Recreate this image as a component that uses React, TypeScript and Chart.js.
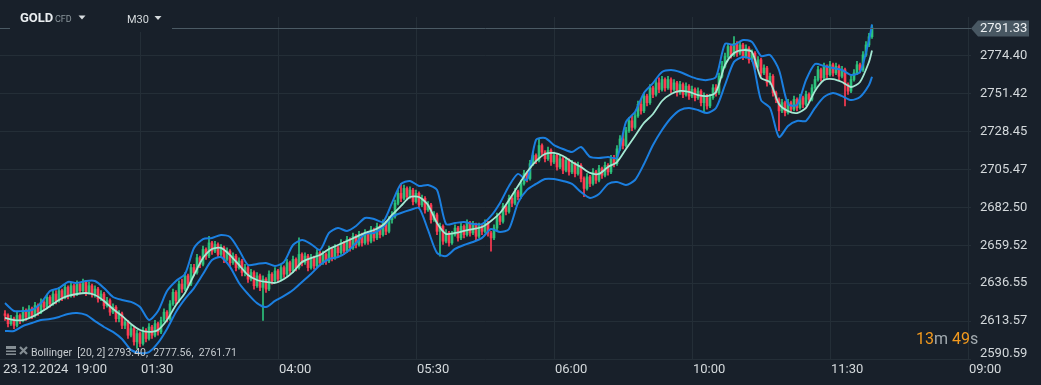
import React, { useEffect, useRef } from 'react';
import { Chart, registerables } from 'chart.js';

Chart.register(...registerables);

// ---------- data ----------
const firstOpen = 2618;

const closes = [
  2617, 2612, 2615, 2611, 2617, 2614, 2620, 2616, 2621, 2617,
  2623, 2619, 2625, 2622, 2628, 2624, 2630, 2626, 2632, 2628,
  2634, 2629, 2635, 2630, 2636, 2632, 2637, 2631, 2635, 2630,
  2633, 2627, 2630, 2623, 2626, 2619, 2622, 2615, 2618, 2611,
  2613, 2605, 2609, 2601, 2606, 2600, 2608, 2603, 2610, 2605,
  2612, 2607, 2614, 2619, 2615, 2624, 2631, 2626, 2636, 2633,
  2641, 2636, 2646, 2643, 2652, 2648, 2657, 2653, 2661, 2656,
  2660, 2654, 2658, 2651, 2656, 2649, 2653, 2646, 2650, 2643,
  2646, 2639, 2643, 2635, 2641, 2634, 2639, 2633, 2642, 2638,
  2644, 2639, 2646, 2642, 2649, 2644, 2651, 2646, 2654, 2649,
  2653, 2646, 2652, 2647, 2655, 2649, 2654, 2650, 2657, 2652,
  2658, 2655, 2661, 2656, 2663, 2658, 2665, 2660, 2666, 2661,
  2667, 2662, 2669, 2664, 2671, 2666, 2673, 2668, 2675, 2677,
  2685, 2691, 2688, 2694, 2689, 2693, 2686, 2691, 2684, 2688,
  2681, 2684, 2675, 2678, 2668, 2671, 2662, 2667, 2661, 2666,
  2670, 2664, 2671, 2666, 2673, 2667, 2672, 2665, 2671, 2668,
  2673, 2667, 2664, 2670, 2677, 2674, 2683, 2680, 2688, 2685,
  2692, 2689, 2697, 2703, 2700, 2709, 2714, 2711, 2720, 2716,
  2712, 2717, 2710, 2714, 2707, 2712, 2705, 2711, 2704, 2709,
  2703, 2708, 2700, 2694, 2701, 2697, 2704, 2699, 2706, 2702,
  2708, 2704, 2712, 2709, 2718, 2724, 2720, 2729, 2735, 2731,
  2738, 2745, 2741, 2750, 2746, 2755, 2751, 2758, 2754, 2760,
  2755, 2760, 2754, 2758, 2752, 2757, 2751, 2756, 2750, 2754,
  2749, 2753, 2746, 2750, 2744, 2749, 2755, 2752, 2762, 2768,
  2774, 2780, 2775, 2782, 2776, 2781, 2774, 2779, 2772, 2776,
  2768, 2772, 2764, 2767, 2758, 2762, 2752, 2748, 2741, 2746,
  2740, 2746, 2742, 2748, 2743, 2749, 2745, 2751, 2748, 2755,
  2760, 2766, 2761, 2768, 2763, 2769, 2764, 2768, 2762, 2766,
  2757, 2753, 2760, 2764, 2769, 2766, 2775, 2781, 2786, 2791.33,
];

const highs = [
  2620, 2618, 2617, 2616, 2619, 2618, 2622, 2621, 2623, 2622,
  2625, 2624, 2627, 2626, 2630, 2629, 2632, 2632, 2634, 2633,
  2636, 2635, 2637, 2636, 2638, 2637, 2639, 2638, 2637, 2636,
  2635, 2634, 2632, 2631, 2628, 2627, 2624, 2623, 2620, 2619,
  2615, 2614, 2611, 2610, 2608, 2607, 2610, 2609, 2612, 2611,
  2614, 2613, 2616, 2621, 2620, 2626, 2633, 2632, 2638, 2639,
  2643, 2642, 2648, 2648, 2654, 2653, 2659, 2658, 2665, 2662,
  2662, 2661, 2660, 2659, 2658, 2657, 2655, 2654, 2652, 2651,
  2648, 2647, 2645, 2644, 2643, 2642, 2641, 2640, 2644, 2643,
  2646, 2645, 2648, 2647, 2651, 2650, 2653, 2652, 2664, 2655,
  2655, 2654, 2654, 2653, 2657, 2656, 2656, 2655, 2659, 2658,
  2660, 2659, 2663, 2662, 2665, 2664, 2667, 2666, 2668, 2667,
  2669, 2668, 2671, 2670, 2673, 2672, 2675, 2674, 2677, 2680,
  2687, 2693, 2697, 2696, 2695, 2695, 2694, 2693, 2692, 2690,
  2689, 2686, 2685, 2680, 2679, 2673, 2672, 2669, 2668, 2668,
  2672, 2671, 2673, 2672, 2675, 2674, 2674, 2673, 2673, 2672,
  2675, 2674, 2668, 2672, 2679, 2678, 2685, 2684, 2690, 2689,
  2694, 2693, 2699, 2705, 2704, 2711, 2716, 2715, 2724, 2721,
  2717, 2719, 2718, 2716, 2715, 2714, 2713, 2713, 2712, 2711,
  2710, 2710, 2709, 2701, 2703, 2702, 2706, 2705, 2708, 2707,
  2710, 2709, 2714, 2714, 2720, 2726, 2727, 2731, 2737, 2738,
  2740, 2747, 2748, 2752, 2751, 2757, 2756, 2760, 2761, 2762,
  2761, 2762, 2761, 2760, 2759, 2759, 2758, 2758, 2757, 2756,
  2755, 2755, 2754, 2752, 2751, 2751, 2757, 2757, 2764, 2771,
  2776, 2782, 2781, 2786, 2783, 2783, 2782, 2781, 2780, 2778,
  2777, 2774, 2773, 2769, 2768, 2764, 2763, 2753, 2749, 2748,
  2747, 2748, 2747, 2750, 2749, 2751, 2750, 2753, 2752, 2757,
  2762, 2768, 2767, 2770, 2769, 2771, 2770, 2770, 2769, 2768,
  2767, 2758, 2762, 2766, 2771, 2770, 2777, 2783, 2788, 2793,
];

const lows = [
  2614, 2610, 2611, 2609, 2610, 2612, 2613, 2614, 2615, 2615,
  2616, 2617, 2618, 2620, 2621, 2622, 2623, 2624, 2625, 2626,
  2627, 2627, 2628, 2628, 2629, 2630, 2631, 2629, 2630, 2628,
  2628, 2625, 2626, 2621, 2622, 2617, 2618, 2613, 2613, 2609,
  2609, 2603, 2604, 2599, 2597, 2598, 2599, 2601, 2602, 2603,
  2604, 2605, 2606, 2613, 2613, 2614, 2623, 2624, 2625, 2631,
  2632, 2634, 2635, 2641, 2642, 2646, 2647, 2651, 2652, 2654,
  2655, 2652, 2653, 2649, 2650, 2647, 2648, 2644, 2645, 2641,
  2641, 2637, 2638, 2633, 2634, 2632, 2614, 2631, 2632, 2636,
  2637, 2637, 2638, 2640, 2641, 2642, 2643, 2644, 2645, 2647,
  2648, 2644, 2645, 2645, 2646, 2647, 2648, 2648, 2649, 2650,
  2651, 2653, 2654, 2654, 2655, 2656, 2657, 2658, 2659, 2659,
  2660, 2660, 2661, 2662, 2663, 2664, 2665, 2666, 2667, 2673,
  2676, 2684, 2686, 2687, 2687, 2688, 2684, 2685, 2682, 2683,
  2679, 2680, 2673, 2674, 2666, 2653, 2660, 2661, 2659, 2660,
  2665, 2662, 2663, 2664, 2665, 2665, 2666, 2663, 2664, 2666,
  2667, 2665, 2656, 2663, 2669, 2672, 2673, 2678, 2679, 2683,
  2684, 2687, 2688, 2696, 2698, 2699, 2708, 2709, 2710, 2714,
  2710, 2711, 2708, 2709, 2705, 2706, 2703, 2704, 2702, 2703,
  2701, 2702, 2698, 2689, 2693, 2695, 2696, 2697, 2698, 2700,
  2701, 2702, 2703, 2707, 2708, 2717, 2718, 2719, 2728, 2729,
  2730, 2737, 2739, 2740, 2744, 2745, 2749, 2750, 2752, 2753,
  2753, 2754, 2752, 2753, 2750, 2751, 2749, 2750, 2748, 2749,
  2747, 2748, 2744, 2740, 2742, 2743, 2748, 2750, 2751, 2761,
  2767, 2773, 2773, 2774, 2774, 2775, 2772, 2773, 2770, 2771,
  2766, 2767, 2762, 2763, 2756, 2757, 2750, 2746, 2729, 2740,
  2738, 2739, 2740, 2741, 2741, 2742, 2743, 2744, 2746, 2747,
  2754, 2759, 2759, 2760, 2761, 2762, 2762, 2763, 2760, 2761,
  2744, 2751, 2752, 2759, 2763, 2764, 2765, 2774, 2780, 2785,
];

// Bollinger (20, 2) read every 3rd candle, last value = last candle
const bandStep = 3;
const upperBand = [
  2624.5, 2619.7, 2619.7, 2620.3, 2624.5, 2631.8, 2633.6, 2637.3, 2636.7, 2637.9,
  2637.9, 2633.6, 2628.2, 2626.4, 2625.2, 2622.1, 2614.2, 2619.7, 2631.8, 2637.9,
  2642.1, 2657.9, 2663.3, 2664.0, 2665.8, 2664.6, 2656.7, 2647.6, 2648.2, 2648.8,
  2647.0, 2649.4, 2659.7, 2662.7, 2660.3, 2656.7, 2667.0, 2670.0, 2668.2, 2671.2,
  2676.1, 2675.5, 2673.7, 2685.2, 2696.7, 2698.5, 2695.5, 2696.1, 2693.1, 2672.4,
  2673.0, 2673.7, 2672.4, 2672.4, 2677.3, 2685.2, 2695.5, 2702.8, 2699.1, 2723.4,
  2724.6, 2720.3, 2717.9, 2716.1, 2719.1, 2713.1, 2712.5, 2713.1, 2712.5, 2734.3,
  2740.3, 2751.9, 2757.9, 2764.6, 2765.8, 2764.6, 2762.2, 2760.3, 2759.7, 2761.6,
  2781.6, 2781.0, 2784.0, 2782.8, 2774.3, 2774.9, 2765.8, 2745.2, 2744.6, 2759.7,
  2769.4, 2768.2, 2767.0, 2765.8, 2762.8, 2764.6, 2784.0, 2793.40,
];
const middleBand = [
  2615.5, 2614.2, 2614.2, 2616.1, 2619.1, 2622.7, 2626.4, 2628.8, 2630.0, 2630.6,
  2629.4, 2625.8, 2620.9, 2616.7, 2611.8, 2608.2, 2607.0, 2608.2, 2614.2, 2623.3,
  2630.6, 2641.5, 2651.8, 2657.3, 2657.9, 2653.6, 2647.6, 2641.5, 2638.5, 2637.3,
  2636.7, 2639.1, 2643.3, 2649.4, 2651.8, 2653.6, 2657.3, 2659.7, 2662.1, 2664.6,
  2667.0, 2668.8, 2671.8, 2677.9, 2683.4, 2688.8, 2688.8, 2684.0, 2673.0, 2666.4,
  2667.0, 2668.2, 2669.4, 2670.6, 2674.3, 2679.1, 2687.0, 2695.5, 2704.0, 2710.6,
  2714.9, 2715.5, 2713.7, 2710.0, 2707.0, 2703.4, 2702.8, 2707.0, 2710.0, 2717.9,
  2725.8, 2733.7, 2739.1, 2747.0, 2751.2, 2753.1, 2752.5, 2750.6, 2750.0, 2752.5,
  2768.8, 2776.1, 2777.9, 2776.7, 2761.0, 2758.5, 2745.2, 2740.9, 2739.7, 2742.8,
  2753.1, 2759.7, 2760.3, 2758.5, 2755.5, 2758.5, 2770.7, 2777.56,
];
const lowerBand = [
  2607.6, 2607.6, 2610.6, 2612.4, 2614.2, 2614.8, 2616.1, 2617.9, 2618.5, 2617.3,
  2613.6, 2610.0, 2607.0, 2602.7, 2596.1, 2594.2, 2594.8, 2600.3, 2608.8, 2619.1,
  2627.0, 2633.6, 2642.1, 2650.6, 2652.4, 2646.4, 2636.7, 2630.0, 2624.5, 2622.1,
  2625.8, 2628.8, 2632.4, 2637.3, 2642.1, 2647.6, 2651.2, 2652.4, 2655.5, 2660.9,
  2666.4, 2667.0, 2670.6, 2676.7, 2679.1, 2680.9, 2682.1, 2668.8, 2654.9, 2653.0,
  2657.3, 2659.7, 2661.5, 2664.0, 2669.4, 2667.6, 2669.4, 2685.2, 2693.1, 2696.7,
  2699.7, 2699.7, 2698.5, 2696.7, 2691.8, 2688.2, 2690.6, 2696.7, 2697.9, 2696.1,
  2699.1, 2708.8, 2720.3, 2729.4, 2736.7, 2741.5, 2742.8, 2741.5, 2739.7, 2742.8,
  2756.7, 2770.7, 2773.7, 2771.9, 2747.6, 2742.8, 2725.2, 2731.9, 2734.9, 2734.9,
  2742.8, 2749.4, 2751.9, 2750.0, 2747.6, 2749.4, 2756.7, 2761.71,
];

const yTickValues = [2590.59, 2613.57, 2636.55, 2659.52, 2682.50, 2705.47, 2728.45, 2751.42, 2774.40];
const xTickPositions = [-0.667, 45.333, 91.333, 137.333, 183.333, 229.333, 275.333, 321.333];
const xTickLabels = ['23.12.2024  19:00', '01:30', '04:00', '05:30', '06:00', '10:00', '11:30', '09:00'];
const lastPrice = 2791.33;
const bollingerValues = [2793.40, 2777.56, 2761.71];
const symbol = 'GOLD';
const symbolType = 'CFD';
const timeframe = 'M30';
const timerParts = [['13', true], ['m ', false], ['49', true], ['s', false]] as [string, boolean][];

// ---------- styles ----------
const BG = '#18202a';
const GRID = '#242e37';
const UP = '#2cc27b';
const DOWN = '#ff3b52';
const BAND = '#1b7fe0';
const MID = '#a4e8d3';
const TEXT = '#d4d9dc';
const FONT = 'Roboto, "Noto Sans", sans-serif';

export default function App() {
  const ref = useRef<HTMLCanvasElement | null>(null);

  useEffect(() => {
    document.body.style.margin = '0';
    document.body.style.background = BG;
    const canvas = ref.current;
    if (!canvas) return;

    const opens = closes.map((_, i) => (i === 0 ? firstOpen : closes[i - 1]));
    const colors = closes.map((c, i) => (c >= opens[i] ? UP : DOWN));
    const bodies = closes.map((c, i) => ({ x: i, y: [opens[i], c] }));
    const wicks = closes.map((_, i) => ({ x: i, y: [lows[i], highs[i]] }));
    const bandX = (k: number, n: number) => (k === n - 1 ? closes.length - 1 : k * bandStep);
    const toPts = (arr: number[]) => arr.map((v, k) => ({ x: bandX(k, arr.length), y: v }));

    const overlay = {
      id: 'overlay',
      beforeDraw(chart: any) {
        const { ctx, width, height } = chart;
        ctx.save();
        ctx.fillStyle = BG;
        ctx.fillRect(0, 0, width, height);
        ctx.restore();
      },
      afterDraw(chart: any) {
        const { ctx, chartArea } = chart;
        const ys = chart.scales.y;
        ctx.save();
        const py = Math.round(ys.getPixelForValue(lastPrice)) + 0.5;
        ctx.strokeStyle = '#4b5a64';
        ctx.lineWidth = 1;
        ctx.beginPath();
        ctx.moveTo(chartArea.left, py);
        ctx.lineTo(chartArea.right, py);
        ctx.stroke();

        // header box
        ctx.fillStyle = BG;
        ctx.fillRect(10, chartArea.top, 162, 15);
        ctx.textBaseline = 'middle';
        ctx.textAlign = 'left';
        ctx.fillStyle = '#e9edf0';
        ctx.font = `bold 13px ${FONT}`;
        ctx.fillText(symbol, 20, 18.5);
        ctx.fillStyle = '#8b969c';
        ctx.font = `9px ${FONT}`;
        ctx.fillText(symbolType, 55, 19.5);
        ctx.fillStyle = '#d8dde0';
        ctx.beginPath();
        ctx.moveTo(78.5, 15.5); ctx.lineTo(85.5, 15.5); ctx.lineTo(82, 19.5); ctx.closePath(); ctx.fill();
        ctx.font = `11px ${FONT}`;
        ctx.fillStyle = '#d5dadd';
        ctx.fillText(timeframe, 127, 20.5);
        ctx.beginPath();
        ctx.moveTo(154.5, 16); ctx.lineTo(161.5, 16); ctx.lineTo(158, 20); ctx.closePath(); ctx.fill();

        // price tag
        const tagL = chartArea.right;
        ctx.fillStyle = '#485762';
        ctx.beginPath();
        ctx.moveTo(tagL, py);
        ctx.lineTo(tagL + 7, py - 8);
        ctx.lineTo(tagL + 58, py - 8);
        ctx.lineTo(tagL + 58, py + 8);
        ctx.lineTo(tagL + 7, py + 8);
        ctx.closePath();
        ctx.fill();
        ctx.fillStyle = '#eef1f3';
        ctx.font = `13px ${FONT}`;
        ctx.fillText(lastPrice.toFixed(2), tagL + 9, py + 0.5);

        // bottom y label (shifted up)
        ctx.fillStyle = TEXT;
        ctx.fillText(yTickValues[0].toFixed(2), chartArea.right + 9, ys.getPixelForValue(yTickValues[0]) - 5);

        // timer
        ctx.font = `16px ${FONT}`;
        let tx = 916;
        timerParts.forEach(([t, hi]) => {
          ctx.fillStyle = hi ? '#f39a1e' : '#a3abb0';
          ctx.fillText(t, tx, 339.5);
          tx += ctx.measureText(t).width;
        });

        // Bollinger legend
        ctx.fillStyle = '#858e94';
        ctx.fillRect(6, 346, 10, 3);
        ctx.fillRect(6, 350.5, 10, 1.5);
        ctx.fillRect(6, 353.5, 10, 1.5);
        ctx.strokeStyle = '#858e94';
        ctx.lineWidth = 2.2;
        ctx.beginPath();
        ctx.moveTo(20, 347); ctx.lineTo(27, 354);
        ctx.moveTo(27, 347); ctx.lineTo(20, 354);
        ctx.stroke();
        ctx.fillStyle = '#c7ccd0';
        ctx.font = `10.5px ${FONT}`;
        const legend = `Bollinger  [20, 2] ${bollingerValues.map((v) => v.toFixed(2)).join(',  ')}`;
        ctx.fillText(legend, 31, 353.5);
        ctx.restore();
      },
    };

    const chart = new Chart(canvas, {
      type: 'bar',
      data: {
        datasets: [
          {
            type: 'line', label: 'Middle', data: toPts(middleBand) as any,
            borderColor: MID, borderWidth: 1.8, pointRadius: 0, tension: 0.25, order: 0,
          },
          {
            type: 'line', label: 'Upper', data: toPts(upperBand) as any,
            borderColor: BAND, borderWidth: 2, pointRadius: 0, tension: 0.25, order: 1,
          },
          {
            type: 'line', label: 'Lower', data: toPts(lowerBand) as any,
            borderColor: BAND, borderWidth: 2, pointRadius: 0, tension: 0.25, order: 1,
          },
          {
            type: 'bar', label: 'Body', data: bodies as any, backgroundColor: colors,
            barThickness: 2, grouped: false, order: 2,
          } as any,
          {
            type: 'bar', label: 'Wick', data: wicks as any, backgroundColor: colors,
            barThickness: 1, grouped: false, order: 3,
          } as any,
        ],
      },
      options: {
        animation: false,
        responsive: false,
        maintainAspectRatio: false,
        layout: { padding: { top: 17, left: 0, right: 0, bottom: 0 } },
        plugins: { legend: { display: false }, tooltip: { enabled: false } },
        scales: {
          x: {
            type: 'linear',
            min: -1.6667,
            max: 322,
            offset: false,
            border: { display: false },
            grid: {
              offset: false,
              drawTicks: false,
              color: (c: any) => (c.index === 0 ? 'rgba(0,0,0,0)' : GRID),
            },
            afterBuildTicks: (s: any) => { s.ticks = xTickPositions.map((v) => ({ value: v })); },
            afterFit: (s: any) => { s.height = 26; },
            ticks: {
              autoSkip: false, maxRotation: 0, minRotation: 0, align: 'start', padding: 3,
              color: TEXT, font: { family: FONT, size: 13 },
              callback: (_v: any, i: number) => xTickLabels[i],
            },
          },
          y: {
            type: 'linear',
            position: 'right',
            min: 2590.59,
            max: 2797.93,
            border: { display: false },
            grid: { color: GRID, drawTicks: false },
            afterBuildTicks: (s: any) => { s.ticks = yTickValues.map((v) => ({ value: v })); },
            afterFit: (s: any) => { s.width = 70; },
            ticks: {
              padding: 9, color: TEXT, font: { family: FONT, size: 13 },
              callback: (_v: any, i: number) => (i === 0 ? '' : yTickValues[i].toFixed(2)),
            },
          },
        },
      } as any,
      plugins: [overlay],
    });
    return () => chart.destroy();
  }, []);

  return (
    <div style={{ width: 1041, height: 385, background: BG }}>
      <canvas ref={ref} width={1041} height={385} style={{ display: 'block' }} />
    </div>
  );
}
